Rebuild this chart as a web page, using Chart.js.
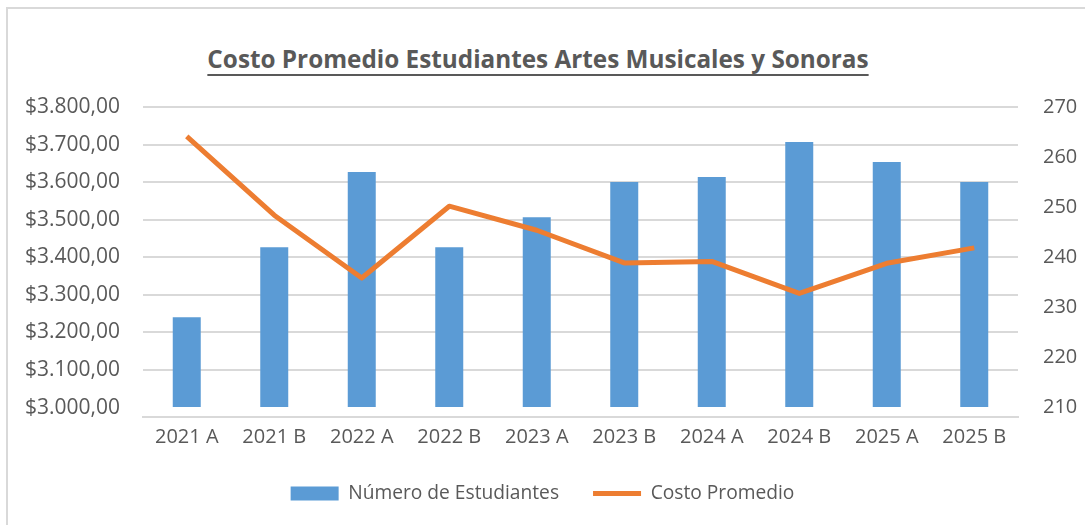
<!DOCTYPE html>
<html>
<head>
<meta charset="utf-8">
<script src="https://cdn.jsdelivr.net/npm/chart.js@4/dist/chart.umd.min.js"></script>
<style>
  html, body { margin: 0; padding: 0; background: #fff; }
  #wrap { position: relative; width: 1085px; height: 525px; overflow: hidden; }
  #frame {
    position: absolute; left: 6px; top: 7px; width: 1200px; height: 600px;
    border-left: 2px solid #d9d9d9; border-top: 2px solid #d9d9d9;
  }
  #title {
    position: absolute; left: 0; top: 42px; width: 1076px; text-align: center;
    font-family: "Open Sans", sans-serif; font-weight: bold; font-size: 24.3px;
    color: #595959; text-decoration: underline; text-underline-offset: 6px;
    text-decoration-thickness: 2px; text-decoration-skip-ink: none;
  }
  canvas { position: absolute; left: 0; top: 0; }
</style>
</head>
<body>
<div id="wrap">
  <div id="frame"></div>
  <div id="title">Costo Promedio Estudiantes Artes Musicales y Sonoras</div>
  <canvas id="chart" width="1085" height="525"></canvas>
</div>
<script>
const periods = ['2021 A', '2021 B', '2022 A', '2022 B', '2023 A', '2023 B', '2024 A', '2024 B', '2025 A', '2025 B'];
const students = [228, 242, 257, 242, 248, 255, 256, 263, 259, 255];
const avgCost = [3722, 3512, 3345, 3536, 3472, 3385, 3389, 3304, 3384, 3425];
const costTicks = [3000, 3100, 3200, 3300, 3400, 3500, 3600, 3700, 3800];
const studentTicks = [210, 220, 230, 240, 250, 260, 270];

const textColor = '#595959';
const gridColor = '#d9d9d9';
const family = '"Open Sans", sans-serif';

// $3.800,00 style
function money(v) {
  const [ent, dec] = v.toFixed(2).split('.');
  return '$' + ent.replace(/\B(?=(\d{3})+(?!\d))/g, '.') + ',' + dec;
}

new Chart(document.getElementById('chart'), {
  data: {
    labels: periods,
    datasets: [
      {
        type: 'line',
        label: 'Costo Promedio',
        data: avgCost,
        yAxisID: 'y',
        borderColor: '#ED7D31',
        backgroundColor: '#ED7D31',
        borderWidth: 5,
        pointRadius: 0,
        borderJoinStyle: 'round',
        tension: 0,
        order: 0
      },
      {
        type: 'bar',
        label: 'Número de Estudiantes',
        data: students,
        yAxisID: 'y1',
        backgroundColor: '#5B9BD5',
        borderWidth: 0,
        base: 210,
        categoryPercentage: 1,
        barPercentage: 0.32,
        order: 1
      }
    ]
  },
  options: {
    responsive: false,
    animation: false,
    layout: { padding: { top: 107, left: 0, right: 0, bottom: 15 } },
    plugins: {
      title: { display: false },
      tooltip: { enabled: false },
      legend: {
        position: 'bottom',
        reverse: true,
        maxHeight: 60,
        labels: {
          color: textColor,
          font: { family: family, size: 19.2 },
          usePointStyle: true,
          pointStyleWidth: 48,
          boxHeight: 14,
          padding: 34,
          generateLabels(chart) {
            const items = Chart.defaults.plugins.legend.labels.generateLabels(chart);
            items.forEach(it => {
              it.pointStyle = chart.data.datasets[it.datasetIndex].type === 'line' ? 'line' : 'rect';
            });
            return items;
          }
        }
      }
    },
    scales: {
      x: {
        afterFit(scale) { scale.height = 33; },
        grid: { display: false, drawTicks: false },
        border: { display: true, color: gridColor, width: 2 },
        ticks: { color: textColor, font: { family: family, size: 20 }, padding: 8, maxRotation: 0 }
      },
      y: {
        position: 'left',
        min: 2975,
        max: 3800,
        afterBuildTicks(scale) { scale.ticks = costTicks.map(v => ({ value: v })); },
        afterFit(scale) { scale.width = 143; },
        grid: {
          drawTicks: false,
          lineWidth: 2,
          color: ctx => (ctx.tick && ctx.tick.value === 3000) ? 'rgba(0,0,0,0)' : gridColor
        },
        border: { display: false },
        ticks: { color: textColor, font: { family: family, size: 21 }, padding: 23, callback: v => money(v) }
      },
      y1: {
        position: 'right',
        min: 208.1,
        max: 270,
        afterBuildTicks(scale) { scale.ticks = studentTicks.map(v => ({ value: v })); },
        afterFit(scale) { scale.width = 67; },
        grid: { drawOnChartArea: false, drawTicks: false },
        border: { display: false },
        ticks: { color: textColor, font: { family: family, size: 20 }, padding: 25 }
      }
    }
  }
});
</script>
</body>
</html>
